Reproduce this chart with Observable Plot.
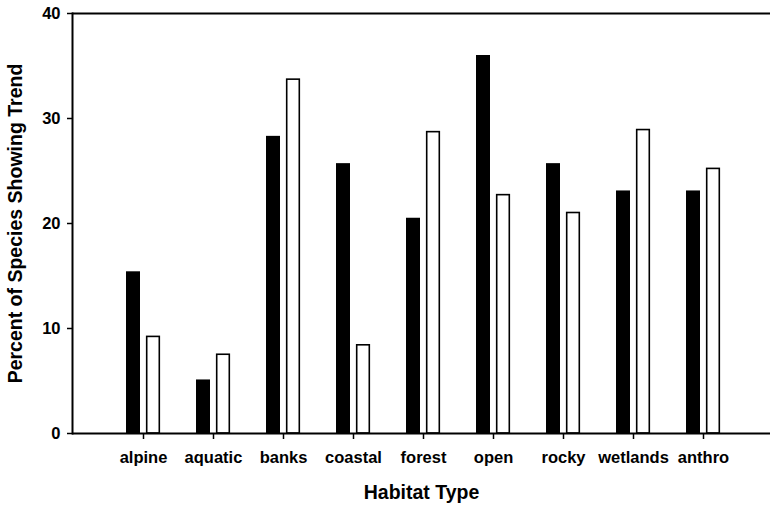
<!DOCTYPE html>
<html>
<head>
<meta charset="utf-8">
<script src="https://cdn.jsdelivr.net/npm/d3@7"></script>
<script src="https://cdn.jsdelivr.net/npm/@observablehq/plot@0.6"></script>
<style>
  html, body { margin: 0; padding: 0; background: #fff; }
  #chart svg { display: block; }
</style>
</head>
<body>
<div id="chart"></div>
<script>
const habitats = ["alpine", "aquatic", "banks", "coastal", "forest", "open", "rocky", "wetlands", "anthro"];
const seriesBlack = [15.4, 5.1, 28.3, 25.7, 20.5, 36.0, 25.7, 23.1, 23.1];
const seriesWhite = [9.2, 7.5, 33.7, 8.4, 28.7, 22.7, 21.0, 28.9, 25.2];
const yTicks = [0, 10, 20, 30, 40];
const xTitle = "Habitat Type";
const yTitle = "Percent of Species Showing Trend";

const blackData = habitats.map((h, i) => ({habitat: h, value: seriesBlack[i]}));
const whiteData = habitats.map((h, i) => ({habitat: h, value: seriesWhite[i]}));

const font = "Liberation Sans, Arial, Helvetica, sans-serif";

const chart = Plot.plot({
  width: 770,
  height: 507,
  marginLeft: 72,
  marginRight: 0,
  marginTop: 13,
  marginBottom: 74,
  style: {fontFamily: font, fontWeight: "bold", color: "black", background: "white"},
  x: {domain: habitats, paddingInner: 0, paddingOuter: 0.5, round: false, insetLeft: 1, insetRight: -3, axis: null},
  y: {domain: [0, 40], axis: null},
  marks: [
    Plot.barY(blackData, {x: "habitat", y: "value", fill: "black", insetLeft: 28, insetRight: 28, dx: -10}),
    Plot.barY(whiteData, {x: "habitat", y: "value", fill: "white", stroke: "black", strokeWidth: 1.6, insetLeft: 28.7, insetRight: 28.7, dx: 10}),
    Plot.ruleY([0, 40], {stroke: "black", strokeWidth: 2}),
    Plot.frame({anchor: "left", stroke: "black", strokeWidth: 2}),
    Plot.axisY({ticks: yTicks, tickSize: 5, tickPadding: 7, tickFormat: d => d, fontSize: 16.5, fontWeight: "bold", strokeWidth: 1.5, label: null}),
    Plot.axisX({tickSize: 6, tickPadding: 12, fontSize: 16.5, fontWeight: "bold", strokeWidth: 1.5, label: null}),
    Plot.text([xTitle], {frameAnchor: "bottom", dy: 65, fontSize: 19.5, fontWeight: "bold", fill: "black"}),
    Plot.text([yTitle], {frameAnchor: "left", textAnchor: "middle", rotate: -90, dx: -57, fontSize: 19.5, fontWeight: "bold", fill: "black"})
  ]
});

document.getElementById("chart").appendChild(chart);
</script>
</body>
</html>
